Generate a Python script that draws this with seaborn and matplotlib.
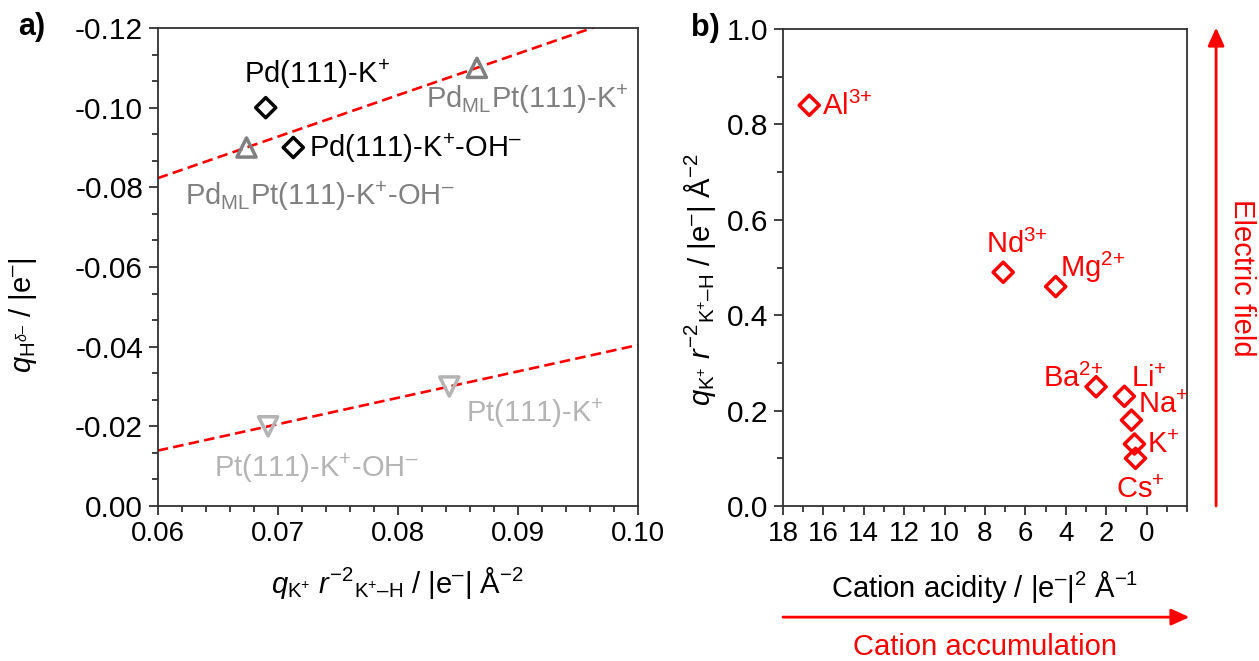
import numpy as np
import matplotlib
matplotlib.use("Agg")
import matplotlib.pyplot as plt
from matplotlib.ticker import AutoMinorLocator, MultipleLocator
import seaborn as sns

# ---------------- data ----------------
# panel a
pd_x = [0.0690, 0.0713]
pd_y = [-0.100, -0.090]
pdml_x = [0.0674, 0.0866]
pdml_y = [-0.090, -0.110]
pt_x = [0.0692, 0.0843]
pt_y = [-0.020, -0.030]
a_xticks = [0.06, 0.07, 0.08, 0.09, 0.10]
a_xticklabels = ["0.06", "0.07", "0.08", "0.09", "0.10"]
a_yticks = [-0.12, -0.10, -0.08, -0.06, -0.04, -0.02, 0.00]
a_yticklabels = ["-0.12", "-0.10", "-0.08", "-0.06", "-0.04", "-0.02", "0.00"]

# panel b
cations = ["Al$^{3{+}}$", "Nd$^{3{+}}$", "Mg$^{2{+}}$", "Ba$^{2{+}}$", "Li$^{+}$", "Na$^{+}$", "K$^{+}$", "Cs$^{+}$"]
acidity = [16.7, 7.1, 4.5, 2.5, 1.1, 0.75, 0.6, 0.55]
field = [0.84, 0.49, 0.46, 0.25, 0.23, 0.18, 0.13, 0.10]
b_xticks = [18, 16, 14, 12, 10, 8, 6, 4, 2, 0]
b_xticklabels = ["18", "16", "14", "12", "10", "8", "6", "4", "2", "0"]
b_yticks = [0.0, 0.2, 0.4, 0.6, 0.8, 1.0]
b_yticklabels = ["0.0", "0.2", "0.4", "0.6", "0.8", "1.0"]

# ---------------- style ----------------
sns.set_style("ticks")
plt.rcParams["font.family"] = ["Liberation Sans", "DejaVu Sans"]
plt.rcParams["mathtext.fontset"] = "custom"
plt.rcParams["mathtext.rm"] = "Liberation Sans"
plt.rcParams["mathtext.it"] = "Liberation Sans:italic"
plt.rcParams["mathtext.bf"] = "Liberation Sans:bold"
plt.rcParams["text.color"] = "black"
plt.rcParams["axes.labelcolor"] = "black"
plt.rcParams["xtick.labelcolor"] = "black"
plt.rcParams["ytick.labelcolor"] = "black"

RED = "#ff0000"
GRAY = "#808080"
LGRAY = "#b4b4b4"
SPINE = "#333333"
XTICK_FS = 20
YTICK_FS = 21.5
ANN_FS = 21
LAB_FS = 21

fig = plt.figure(figsize=(12.59, 6.61), dpi=100)
W, H = 1259, 661
axa = fig.add_axes([157.7 / W, 1 - 506 / H, 480 / W, 478 / H])
axb = fig.add_axes([783 / W, 1 - 506 / H, 404 / W, 477 / H])

for ax in (axa, axb):
    for s in ax.spines.values():
        s.set_color(SPINE)
        s.set_linewidth(1.3)
    ax.tick_params(which="both", direction="out", color=SPINE, width=1.3,
                   top=False, right=False, pad=4, labelcolor="black")
    ax.tick_params(axis="x", labelsize=XTICK_FS)
    ax.tick_params(axis="y", labelsize=YTICK_FS)
    ax.tick_params(which="major", length=6.5)
    ax.tick_params(which="minor", length=4.3)

# ---------------- panel a ----------------
xfit = np.array([0.06, 0.10])
for xs, ys in ((pdml_x, pdml_y), (pt_x, pt_y)):
    k, b0 = np.polyfit(xs, ys, 1)
    sns.lineplot(x=xfit, y=k * xfit + b0, ax=axa, color=RED, lw=1.9,
                 dashes=False, linestyle=(0, (4, 2)), zorder=2)

sns.scatterplot(x=pd_x, y=pd_y, ax=axa, marker="D", s=105, facecolor="none",
                edgecolor="black", linewidth=2.5, zorder=3)
sns.scatterplot(x=pdml_x, y=pdml_y, ax=axa, marker="^", s=190, facecolor="none",
                edgecolor=GRAY, linewidth=2.5, zorder=3)
sns.scatterplot(x=pt_x, y=pt_y, ax=axa, marker="v", s=190, facecolor="none",
                edgecolor=LGRAY, linewidth=2.5, zorder=3)

axa.text(0.0672, -0.1062, "Pd(111)-K$^{+}$", fontsize=ANN_FS, color="black", va="baseline")
axa.text(0.0726, -0.0876, "Pd(111)-K$^{+}$-OH$^{\u2013}$", fontsize=ANN_FS, color="black", va="baseline")
axa.text(0.0824, -0.0999, "Pd$_{\\mathrm{ML}}$Pt(111)-K$^{+}$", fontsize=ANN_FS, color=GRAY, va="baseline")
axa.text(0.0623, -0.0756, "Pd$_{\\mathrm{ML}}$Pt(111)-K$^{+}$-OH$^{\u2013}$", fontsize=ANN_FS, color=GRAY, va="baseline")
axa.text(0.0857, -0.0212, "Pt(111)-K$^{+}$", fontsize=ANN_FS, color=LGRAY, va="baseline")
axa.text(0.0647, -0.0074, "Pt(111)-K$^{+}$-OH$^{\u2013}$", fontsize=ANN_FS, color=LGRAY, va="baseline")

axa.set_xlim(0.06, 0.10)
axa.set_ylim(0.0, -0.12)
axa.set_xticks(a_xticks)
axa.set_xticklabels(a_xticklabels)
axa.set_yticks(a_yticks)
axa.set_yticklabels(a_yticklabels)
axa.xaxis.set_minor_locator(AutoMinorLocator(5))
axa.yaxis.set_minor_locator(AutoMinorLocator(3))

axa.set_xlabel("$q_{\\mathrm{K}^{+}}\\ r^{\u22122}{}_{\\mathrm{K}^{+}\\mathrm{\u2013H}}$ / |e$^{\u2013}$| Å$^{\u22122}$",
               fontsize=LAB_FS)
axa.xaxis.set_label_coords(0.5, -0.161)
axa.xaxis.label.set_va("center")
axa.set_ylabel("$q_{\\mathrm{H}^{\\delta\u2013}}$ / |e$^{\u2013}$|", fontsize=LAB_FS)
axa.yaxis.set_label_coords(-0.281, 0.40)
axa.yaxis.label.set_va("center")

# ---------------- panel b ----------------
sns.scatterplot(x=acidity, y=field, ax=axb, marker="D", s=105, facecolor="none",
                edgecolor=RED, linewidth=2.5, zorder=3)

lab_pos = [(16.07, 0.820), (7.93, 0.530), (4.29, 0.480), (5.13, 0.249),
           (0.77, 0.250), (0.43, 0.195), (-0.02, 0.111), (1.53, 0.017)]
for name, (tx, ty) in zip(cations, lab_pos):
    axb.text(tx, ty, name, fontsize=ANN_FS, color=RED, va="baseline", ha="left")

axb.set_xlim(18, -2)
axb.set_ylim(0.0, 1.0)
axb.set_xticks(b_xticks)
axb.set_xticklabels(b_xticklabels)
axb.set_yticks(b_yticks)
axb.set_yticklabels(b_yticklabels)
axb.xaxis.set_minor_locator(MultipleLocator(1))
axb.yaxis.set_minor_locator(AutoMinorLocator(2))

axb.set_xlabel("Cation acidity / |e$^{\u2013}$|$^{2}$ Å$^{\u22121}$", fontsize=LAB_FS)
axb.xaxis.set_label_coords(0.5, -0.170)
axb.xaxis.label.set_va("center")
axb.set_ylabel("$q_{\\mathrm{K}^{+}}\\ r^{\u22122}{}_{\\mathrm{K}^{+}\\mathrm{\u2013H}}$ / |e$^{\u2013}$| Å$^{\u22122}$",
               fontsize=LAB_FS)
axb.yaxis.set_label_coords(-0.205, 0.474)
axb.yaxis.label.set_va("center")

arrow_kw = dict(arrowstyle="-|>,head_length=0.55,head_width=0.25", color=RED,
                lw=2.0, mutation_scale=20, shrinkA=0, shrinkB=0)
axb.annotate("", xy=(1.072, 1.003), xytext=(1.072, 0.0), xycoords="axes fraction",
             textcoords="axes fraction", arrowprops=arrow_kw, annotation_clip=False)
axb.annotate("", xy=(1.006, -0.233), xytext=(0.0, -0.233), xycoords="axes fraction",
             textcoords="axes fraction", arrowprops=arrow_kw, annotation_clip=False)
axb.text(1.136, 0.478, "Electric field", transform=axb.transAxes, rotation=-90,
         color=RED, fontsize=LAB_FS, ha="center", va="center")
axb.text(0.5, -0.296, "Cation accumulation", transform=axb.transAxes,
         color=RED, fontsize=LAB_FS, ha="center", va="center")

fig.text(31.5 / W, 1 - 27 / H, "a)", fontsize=22, fontweight="bold", ha="center", va="center")
fig.text(705 / W, 1 - 28 / H, "b)", fontsize=22, fontweight="bold", ha="center", va="center")

fig.savefig("out.png", dpi=100)
